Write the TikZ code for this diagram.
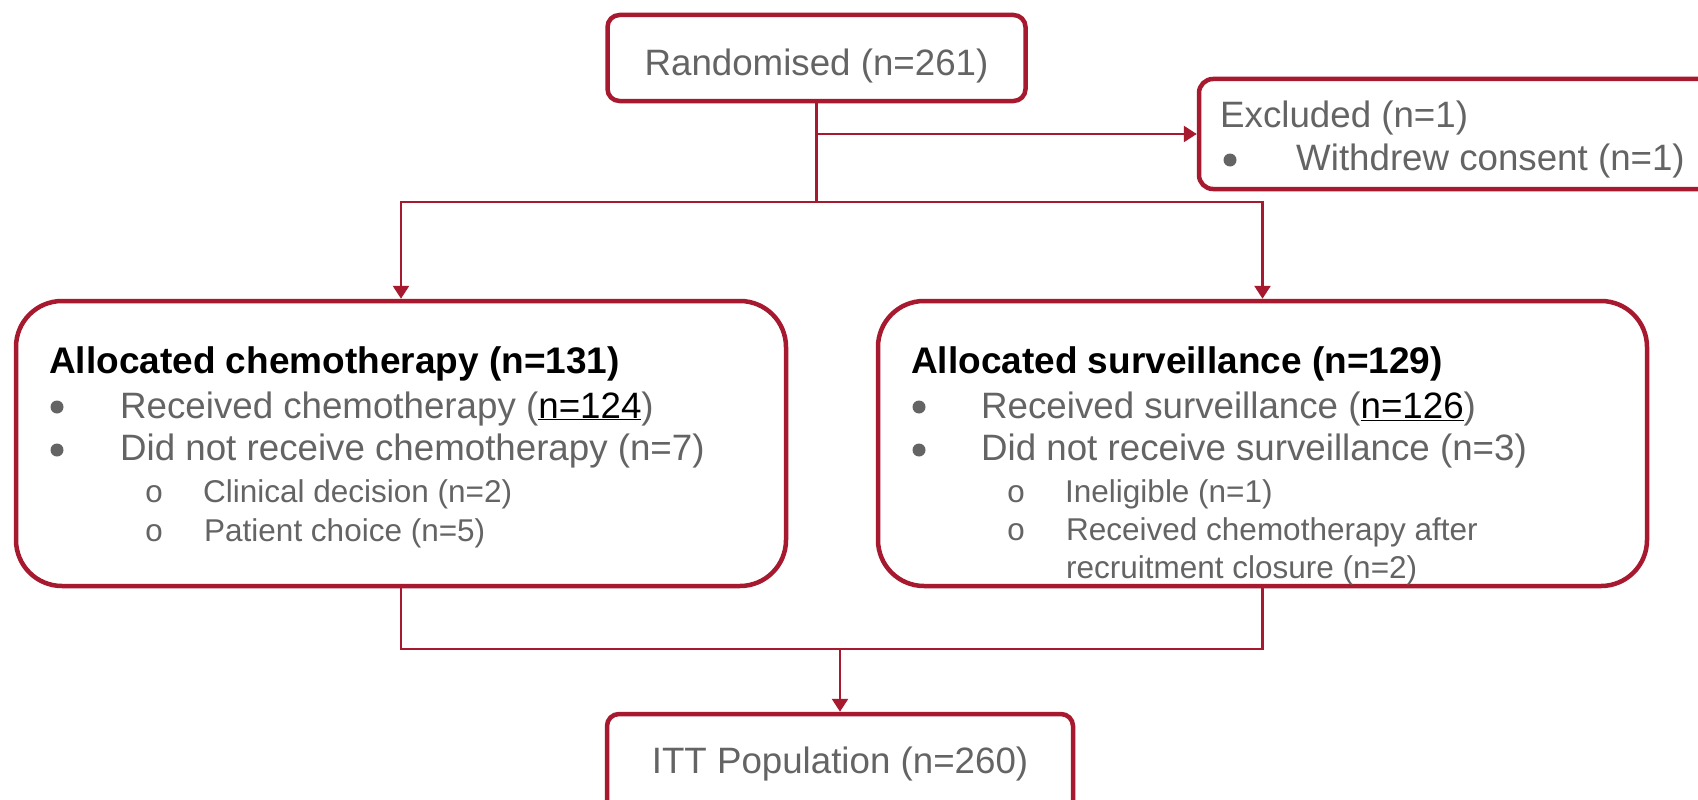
\documentclass[tikz,border=0pt]{standalone}
\usepackage{fontspec}
\setmainfont{Liberation Sans}
\newfontfamily\bulletmono{Liberation Mono}
\usetikzlibrary{arrows.meta}
\definecolor{crim}{RGB}{166,25,46}
\definecolor{txtgray}{RGB}{100,100,100}
\tikzset{
  smallbox/.style={draw=crim, line width=4.5pt, rounded corners=12pt, fill=white, inner sep=0pt,
    text=txtgray, font=\fontsize{36.7}{43}\selectfont},
  bigbox/.style={draw=crim, line width=4.5pt, rounded corners=46pt, fill=white, inner sep=0pt},
  conn/.style={draw=crim, line width=2.7pt},
  arr/.style={conn, -{Triangle[width=16pt,length=13pt]}},
  main/.style={inner sep=0pt, anchor=base west, text=txtgray, font=\fontsize{36.7}{43}\selectfont},
  ttl/.style={inner sep=0pt, anchor=base west, text=black, font=\fontsize{37}{43}\selectfont\bfseries},
  subt/.style={inner sep=0pt, anchor=base west, text=txtgray, font=\fontsize{31.5}{38}\selectfont},
  dot/.style={circle, fill=txtgray, inner sep=0pt, minimum size=13pt},
  subbul/.style={inner sep=0pt, anchor=base, text=txtgray, font=\fontsize{31.5}{38}\bulletmono},
}
\begin{document}
\begin{tikzpicture}[x=1pt,y=-1pt]
\useasboundingbox (0,0) rectangle (1698,800);
\clip (0,0) rectangle (1698,800);
\fill[white] (0,0) rectangle (1698,800);

% boxes
\node[smallbox, minimum width=418pt, minimum height=86pt, text height=34pt, text depth=0pt]
  (rand) at (816.5,58) {Randomised (n=261)};
\node[bigbox, rounded corners=14pt, minimum width=531pt, minimum height=110pt] (excl) at (1464.5,134) {};
\node[bigbox, minimum width=770pt, minimum height=285pt] (chemo) at (401,443.5) {};
\node[bigbox, minimum width=769pt, minimum height=285pt] (surv) at (1262.5,443.5) {};
\node[smallbox, minimum width=466pt, minimum height=100pt, text height=18pt, text depth=0pt]
  (itt) at (840,764) {ITT Population (n=260)};

% excluded text
\node[main] (exT) at (1220,127) {Excluded (n=1)};
\node[dot] (exB) at (1230,160) {};
\node[main] (exL) at (1296,170) {Withdrew consent (n=1)};

% chemotherapy box text
\node[ttl] (chT) at (49,373) {Allocated chemotherapy (n=131)};
\node[dot] (chB1) at (57,407) {};
\node[main] (chL1) at (120,418) {Received chemotherapy (\textcolor{black}{\underline{n=124}})};
\node[dot] (chB2) at (57,450) {};
\node[main] (chL2) at (120,460) {Did not receive chemotherapy (n=7)};
\node[subbul] (chS1) at (154,502) {o};
\node[subt] (chL3) at (203,502) {Clinical decision (n=2)};
\node[subbul] (chS2) at (154,541) {o};
\node[subt] (chL4) at (204,541) {Patient choice (n=5)};

% surveillance box text
\node[ttl] (svT) at (911,373) {Allocated surveillance (n=129)};
\node[dot] (svB1) at (919,407) {};
\node[main] (svL1) at (981,418) {Received surveillance (\textcolor{black}{\underline{n=126}})};
\node[dot] (svB2) at (919,450) {};
\node[main] (svL2) at (981,460) {Did not receive surveillance (n=3)};
\node[subbul] (svS1) at (1016,502) {o};
\node[subt] (svL3) at (1065,502) {Ineligible (n=1)};
\node[subbul] (svS2) at (1016,540) {o};
\node[subt] (svL4) at (1066,540) {Received chemotherapy after};
\node[subt] (svL5) at (1066,578) {recruitment closure (n=2)};

% connectors
\coordinate (split) at (816.5,202);
\coordinate (merge) at (840,649);
\draw[conn] (rand.south) -- (split);
\draw[arr] (rand.south |- excl.west) -- (excl.west);
\draw[arr] (split) -| (chemo.north);
\draw[arr] (split) -| (surv.north);
\draw[conn] (chemo.south) |- (surv.south |- merge) -- (surv.south);
\draw[arr] (merge) -- (itt.north);
\end{tikzpicture}
\end{document}
